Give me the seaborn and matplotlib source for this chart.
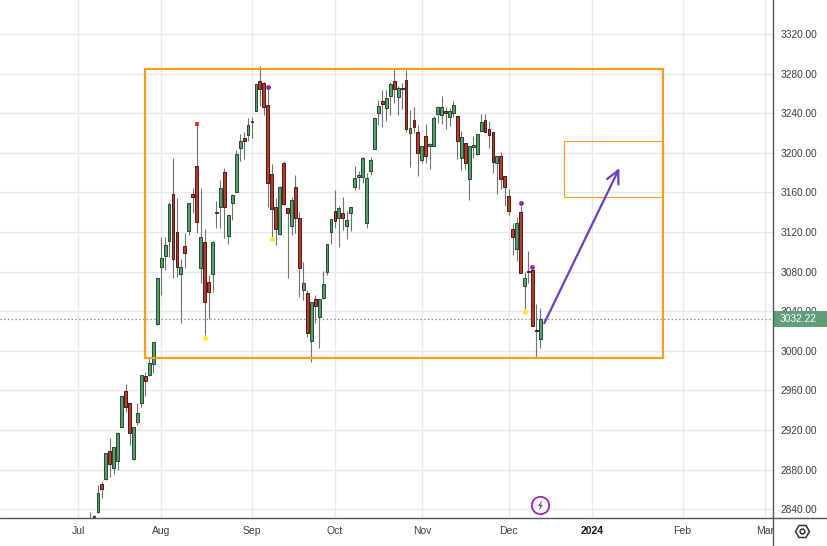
import matplotlib
matplotlib.use('Agg')
import matplotlib.pyplot as plt
import matplotlib.transforms as mtransforms
from matplotlib.patches import Rectangle
from matplotlib.path import Path
from matplotlib.lines import Line2D
import numpy as np
import pandas as pd
import seaborn as sns

# daily candles, first one on 2023-07-06 (business days)
first_day = '2023-07-06'
opens = [2826, 2832.5, 2837.6, 2865.2, 2870.3, 2899.2, 2882.0, 2888.4, 2923.4, 2959.5,
         2947.0, 2890.4, 2928.5, 2947.7, 2974.6, 2975.3, 2986.4, 3026.8,
         3085.2, 3096.3, 3111.4, 3158.2, 3120.5, 3077.4, 3106.0, 3121.5, 3158.2, 3186.8,
         3083.5, 3109.7, 3069.3, 3077.4, 3139.6, 3145.8, 3180.4, 3116.5, 3149.8, 3160.9,
         3205.3, 3214.8, 3218.1, 3231.5, 3242.7, 3273.0, 3271.0, 3248.4, 3178.4, 3145.1,
         3117.8, 3189.5, 3144.1, 3126.6, 3165.3, 3134.0, 3061.6, 3058.2, 3010.1, 3052.1,
         3034.0, 3053.2, 3080.1, 3120.5, 3141.4, 3134.6, 3139.0, 3126.6, 3139.0, 3166.0,
         3175.4, 3175.4, 3129.6, 3182.1, 3204.0, 3240.0, 3252.5, 3245.1, 3257.9, 3272.7,
         3256.2, 3265.3, 3273.7, 3219.8, 3233.3, 3221.5, 3192.9, 3217.1, 3207.4, 3207.4,
         3239.4, 3238.3, 3242.4, 3236.0, 3240.7, 3237.3, 3195.2, 3209.7, 3173.4, 3205.7,
         3198.6, 3222.2, 3233.3, 3223.9, 3221.2, 3189.5, 3196.9, 3176.7, 3156.5, 3122.9,
         3102.7, 3140.0, 3065.9, 3080.4, 3081.7, 3021.2, 3011.7]
highs = [2837.6, 2834, 2864.5, 2867.9, 2897, 2911.7, 2903, 2918.4, 2955.4, 2966.5,
         2947.5, 2923, 2947.0, 2975.5, 2979.0, 2992.5, 3009, 3073.5,
         3115.4, 3115.4, 3150.8, 3194.6, 3154.2, 3092.6, 3119.5, 3149.5, 3164.3, 3228.9,
         3164.3, 3122.9, 3076.7, 3110.5, 3151.5, 3172.7, 3184.5, 3137.5, 3158.2, 3203.0,
         3219.2, 3221.5, 3235.6, 3236.7, 3270.0, 3287.8, 3271.5, 3265.9, 3188.8, 3154.2,
         3166.3, 3191.9, 3144.5, 3155.8, 3177.7, 3140.7, 3090.2, 3061.6, 3049.5, 3056.5,
         3052.5, 3081.1, 3108.0, 3133.3, 3162.6, 3146.8, 3155.8, 3141.4, 3145.4, 3186.8,
         3181.8, 3196.3, 3179.4, 3196.3, 3235.3, 3253.5, 3263.6, 3263.6, 3272.0, 3284.5,
         3268.0, 3270.3, 3283.8, 3243.4, 3246.8, 3228.2, 3207.3, 3229.2, 3209.5, 3237.3,
         3247.4, 3257.5, 3246.8, 3245.1, 3252.8, 3237.6, 3222.5, 3210.0, 3207.3, 3217.1,
         3219.5, 3239.4, 3239.4, 3232.3, 3221.5, 3197.2, 3201.3, 3177.0, 3163.6, 3128.9,
         3134.9, 3146.3, 3080.0, 3100.9, 3083.0, 3047.3, 3043.0]
lows = [2818, 2826, 2836, 2851, 2869.6, 2872.9, 2875.3, 2879.7, 2923, 2938.6,
        2904.9, 2889.8, 2925.1, 2943.7, 2954.8, 2974.6, 2978.0, 3026.5,
        3056.5, 3081.8, 3095.3, 3074.0, 3075.0, 3027.9, 3083.5, 3117.1, 3139.0, 3118.8,
        3069.0, 3016.1, 3031.9, 3059.2, 3123.9, 3124.5, 3113.8, 3108.0, 3132.3, 3160.5,
        3191.9, 3193.9, 3212.4, 3214.8, 3242.0, 3247.4, 3238.3, 3145.8, 3115.4, 3107.0,
        3117.5, 3147.8, 3073.4, 3117.1, 3118.8, 3054.8, 3051.5, 3014.4, 2988.7, 3027.9,
        3002.7, 3052.8, 3076.7, 3107.7, 3123.9, 3104.7, 3122.2, 3113.1, 3121.5, 3162.6,
        3163.3, 3169.3, 3123.9, 3177.7, 3203.7, 3228.2, 3226.6, 3232.3, 3238.3, 3250.1,
        3238.3, 3244.1, 3221.5, 3186.2, 3219.8, 3177.1, 3189.5, 3189.5, 3183.5, 3207.0,
        3230.6, 3229.2, 3223.9, 3227.2, 3236.0, 3193.6, 3182.8, 3183.8, 3152.5, 3195.2,
        3198.3, 3221.9, 3219.8, 3204.7, 3179.4, 3158.2, 3163.6, 3146.8, 3137.3, 3096.9,
        3090.9, 3078.7, 3041.9, 3068.2, 3025.3, 2993.1, 3002.6]
closes = [2830, 2832, 2856.1, 2860.1, 2896.5, 2885.4, 2902.6, 2916.7, 2954.4, 2943.0,
          2916.7, 2922.8, 2936.9, 2975.3, 2969.9, 2987.4, 3008.6, 3073.3,
          3093.6, 3107.0, 3148.4, 3092.6, 3084.5, 3085.2, 3099.3, 3149.1, 3155.2, 3130.6,
          3114.8, 3049.1, 3059.2, 3110.4, 3140.5, 3164.3, 3145.8, 3137.3, 3157.5, 3198.6,
          3212.1, 3212.4, 3228.2, 3232.0, 3269.6, 3264.3, 3246.1, 3169.3, 3143.1, 3122.9,
          3166.0, 3148.1, 3139.7, 3152.5, 3134.6, 3083.5, 3068.3, 3018.5, 3049.1, 3045.4,
          3052.1, 3067.3, 3107.7, 3133.0, 3131.6, 3144.1, 3134.0, 3132.3, 3145.1, 3174.4,
          3177.7, 3194.6, 3174.4, 3192.9, 3235.0, 3247.4, 3249.1, 3255.2, 3269.6, 3264.3,
          3265.3, 3265.0, 3223.9, 3224.9, 3226.6, 3200.3, 3207.0, 3197.3, 3209.0, 3235.6,
          3246.1, 3246.1, 3240.0, 3242.4, 3248.4, 3212.4, 3215.8, 3189.5, 3207.0, 3208.0,
          3219.2, 3231.3, 3220.8, 3218.1, 3191.2, 3196.9, 3173.4, 3166.0, 3141.7, 3114.8,
          3128.9, 3079.1, 3073.3, 3080.0, 3025.5, 3020.5, 3032.22]
last_price = 3032.22

# pivot markers
top_dot_dates = ['2023-08-14']
top_dot_prices = [3229.5]
high_dot_dates = ['2023-09-07', '2023-12-06', '2023-12-11']
high_dot_prices = [3266.5, 3149.8, 3085.2]
low_dot_dates = ['2023-08-16', '2023-09-08', '2023-12-07']
low_dot_prices = [3013.4, 3112.7, 3039.6]

# drawings
range_dates = ['2023-07-26', '2024-01-25']
range_prices = [2993.0, 3285.0]
target_dates = ['2023-12-21', '2024-01-25']
target_prices = [3155.0, 3212.0]
arrow_dates = ['2023-12-14', '2024-01-10']
arrow_prices = [3028.0, 3184.5]
event_date = '2023-12-13'

price_ticks = list(range(2840, 3321, 40))

# bar index axis (weekdays only), Aug 1 2023 = 0
calendar = pd.bdate_range('2023-05-01', '2024-03-29')
origin = calendar.get_loc(pd.Timestamp('2023-08-01'))
pos_of = {d: i - origin for i, d in enumerate(calendar)}

def pos(d):
    return pos_of[pd.Timestamp(d)]

df = pd.DataFrame({'date': pd.bdate_range(first_day, periods=len(opens)),
                   'open': opens, 'high': highs, 'low': lows, 'close': closes})
df['pos'] = df['date'].map(pos_of)
up = df['close'] >= df['open']

sns.set_style('white')
plt.rcParams['font.family'] = ['Liberation Sans', 'DejaVu Sans']

fig = plt.figure(figsize=(8.28, 5.46), dpi=100)
W, H = 828, 546
ax = fig.add_axes([0, 28 / H, 773 / W, 518 / H])

grid_c = '#e8e8ea'
month_starts = calendar.to_series().groupby(calendar.to_period('M')).first()
month_starts = month_starts[month_starts >= pd.Timestamp('2023-06-01')]
xt = [pos_of[d] for d in month_starts]
xl = [str(d.year) if d.month == 1 else d.strftime('%b') for d in month_starts]

for p in price_ticks:
    ax.axhline(p, color=grid_c, lw=1, zorder=0)
for p in xt:
    ax.axvline(p, color=grid_c, lw=1, zorder=0)

# candles
green, green_edge = '#5c9c70', '#1f4a2c'
red, red_edge = '#b23e31', '#4e1711'
ax.vlines(df['pos'], df['low'], df['high'], color='#727272', lw=0.8, zorder=2)
body = (df['close'] - df['open']).abs().clip(lower=0.8)
bottom = df[['open', 'close']].min(axis=1)
ax.bar(df['pos'], body, bottom=bottom, width=0.72,
       color=np.where(up, green, red), edgecolor=np.where(up, green_edge, red_edge),
       linewidth=0.7, zorder=3)

# pivot dots
sns.scatterplot(x=[pos(d) for d in top_dot_dates], y=top_dot_prices, color='#e53935',
                marker='s', s=7, linewidth=0, ax=ax, zorder=4)
sns.scatterplot(x=[pos(d) for d in high_dot_dates], y=high_dot_prices, color='#8e24aa',
                s=12, linewidth=0, ax=ax, zorder=4)
sns.scatterplot(x=[pos(d) for d in low_dot_dates], y=low_dot_prices, color='#f5ec3b',
                s=14, linewidth=0, ax=ax, zorder=4)

# last price line
ax.axhline(last_price, color='#5e8f75', lw=0.9, ls=(0, (1, 2)), zorder=1)

# range boxes
orange = '#f4a01c'
x0, x1 = pos(range_dates[0]), pos(range_dates[1])
ax.add_patch(Rectangle((x0, range_prices[0]), x1 - x0, range_prices[1] - range_prices[0],
                       fill=False, ec=orange, lw=1.6, zorder=5))
x0, x1 = pos(target_dates[0]), pos(target_dates[1])
ax.add_patch(Rectangle((x0, target_prices[0]), x1 - x0, target_prices[1] - target_prices[0],
                       fill=False, ec=orange, lw=0.8, zorder=5))

ax.annotate('', xy=(pos(arrow_dates[1]), arrow_prices[1]),
            xytext=(pos(arrow_dates[0]), arrow_prices[0]),
            arrowprops=dict(arrowstyle='->,head_length=0.9,head_width=0.45',
                            color='#6a3fc0', lw=1.6, shrinkA=0, shrinkB=0), zorder=6)

# event icon on the time axis
trans_xa = mtransforms.blended_transform_factory(ax.transData, ax.transAxes)
bolt = Path([(0.25, 1), (-0.45, -0.1), (0.0, -0.1), (-0.25, -1), (0.45, 0.12), (0.0, 0.12), (0.25, 1)],
            [Path.MOVETO] + [Path.LINETO] * 5 + [Path.CLOSEPOLY])
ax.plot([pos(event_date)], [13 / 518], transform=trans_xa, marker='o', ms=12.5,
        mfc='white', mec='#9c27b0', mew=1.3, clip_on=False, zorder=7)
ax.plot([pos(event_date)], [13 / 518], transform=trans_xa, marker=bolt, ms=6.5,
        mfc='#9c27b0', mec='#9c27b0', mew=0.2, clip_on=False, zorder=8)

ax.set_yticks(price_ticks)
ax.set_yticklabels([f'{p:.2f}' for p in price_ticks])
ax.yaxis.tick_right()
ax.set_xticks(xt)
ax.set_xticklabels(xl)
# limits after the ticks, set_xticks would widen them
ax.set_xlim(-40.8, 154.9)
ax.set_ylim(2831.2, 3354.4)
ax.tick_params(axis='y', length=0, pad=5.5, labelsize=7.3, labelcolor='#3c3c3c')
ax.tick_params(axis='x', length=0, pad=6, labelsize=7.5, labelcolor='#3c3c3c')
for lab in ax.get_xticklabels():
    if lab.get_text() == '2024':
        lab.set_fontweight('bold')
        lab.set_color('#131722')
for s in ax.spines.values():
    s.set_visible(False)

# last price tag on the scale
trans_ay = mtransforms.blended_transform_factory(ax.transAxes, ax.transData)
ax.add_patch(Rectangle((1.0, last_price - 8), 55 / 773, 16, transform=trans_ay,
                       fc='#5f9e78', ec='none', clip_on=False, zorder=9))
ax.text(1.0 + 7 / 773, last_price, f'{last_price:.2f}', transform=trans_ay, ha='left',
        va='center', color='white', fontsize=7.3, clip_on=False, zorder=10)

# scale borders and settings icon
fig.add_artist(Line2D([0, 1], [28 / H, 28 / H], color='#555555', lw=1))
fig.add_artist(Line2D([773 / W, 773 / W], [0, 1], color='#555555', lw=1))
fig.add_artist(Line2D([802 / W], [15 / H], marker='H', ms=10, mfc='none', mec='#333333', mew=1.1))
fig.add_artist(Line2D([802 / W], [15 / H], marker='o', ms=3.5, mfc='none', mec='#333333', mew=1.1))

fig.savefig('out.png', dpi=100)
